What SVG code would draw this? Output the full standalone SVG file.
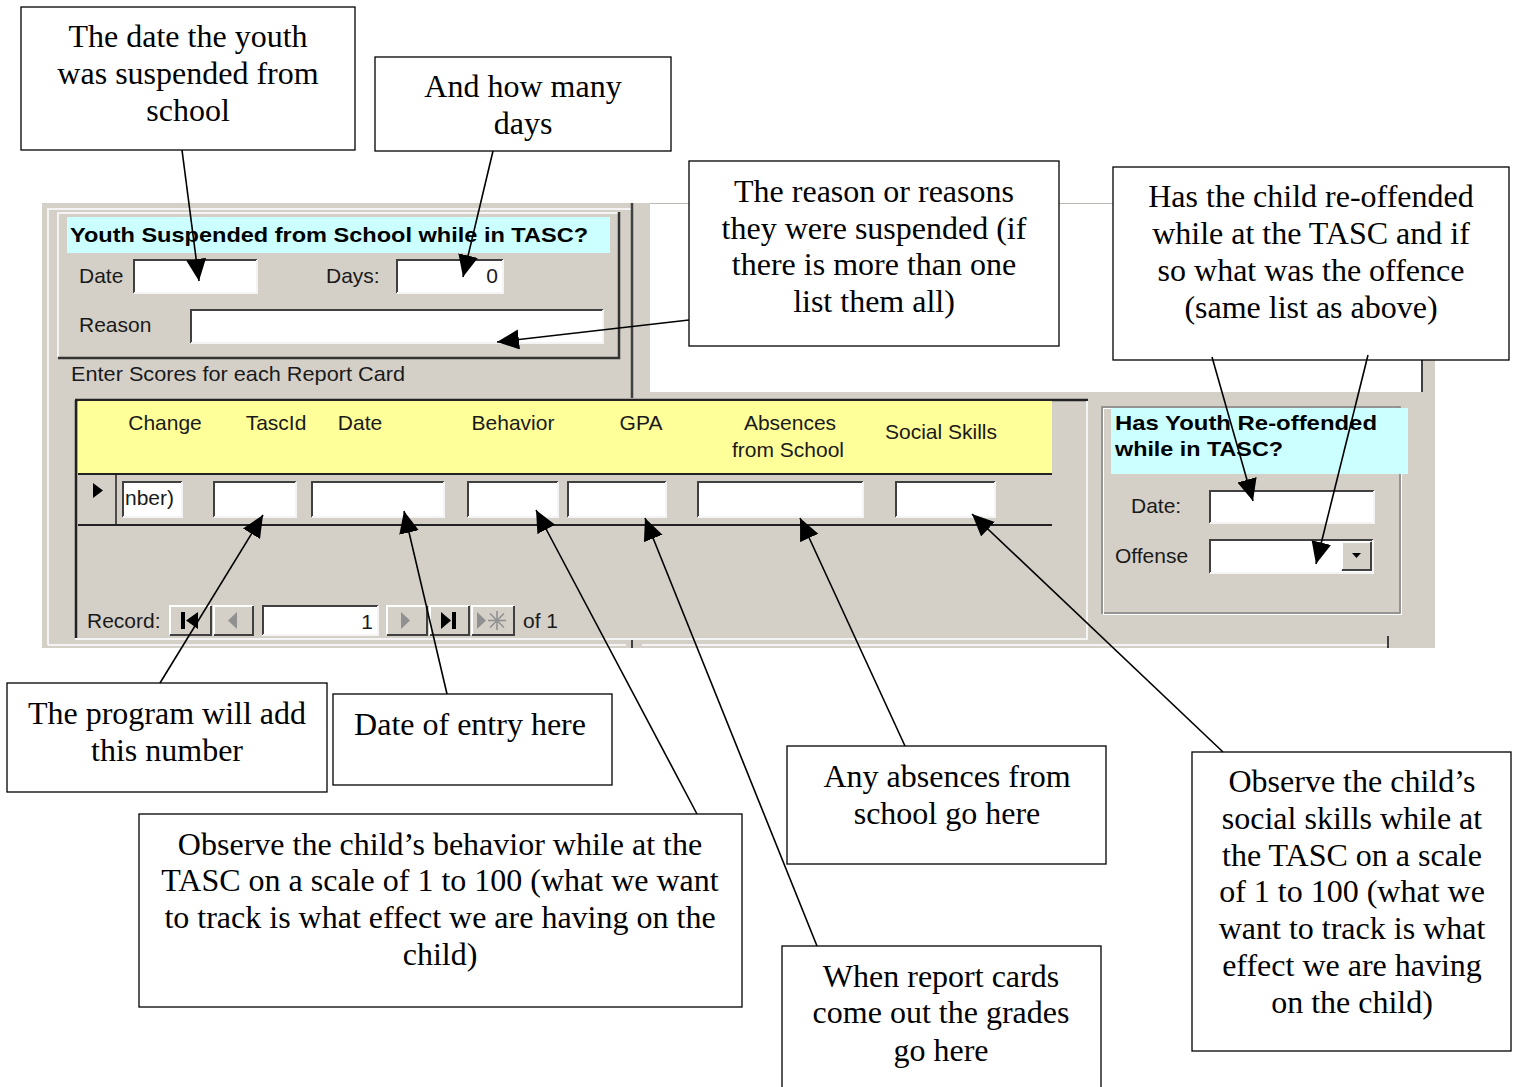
<svg xmlns="http://www.w3.org/2000/svg" width="1522" height="1087" viewBox="0 0 1522 1087">
<style>
.cb{fill:#fff;stroke:#000;stroke-width:1.3}
.ct{font-family:"Liberation Serif","Times New Roman",serif;font-size:32px;fill:#000;text-anchor:middle}
.ui{font-family:"Liberation Sans",Arial,sans-serif;font-size:21px;fill:#1a1a1a}
.uib{font-family:"Liberation Sans",Arial,sans-serif;font-size:21px;font-weight:bold;fill:#000}
.tb{fill:#fff}
.dk{fill:none;stroke:#404040;stroke-width:2}
.lt{fill:none;stroke:#f4f4f4;stroke-width:2}
.btn{fill:#d4d0c8}
.bl{fill:none;stroke:#fff;stroke-width:2}
.bd{fill:none;stroke:#404040;stroke-width:2}
.cn line{stroke:#000;stroke-width:1.6;marker-end:url(#ah)}
</style>
<defs>
<marker id="ah" markerUnits="userSpaceOnUse" markerWidth="24" markerHeight="22" refX="22" refY="10" orient="auto">
<path d="M0,0 L22,10 L0,20 z" fill="#000"/>
</marker>
</defs>
<rect width="1522" height="1087" fill="#fff"/>
<g id="form">
<rect x="42" y="203" width="1393" height="445" fill="#d4d0c8"/>
<rect x="650" y="203" width="772" height="189" fill="#fff"/>
<line x1="650" y1="203.5" x2="1422" y2="203.5" stroke="#bdbab3" stroke-width="1"/>
<line x1="1422" y1="203" x2="1422" y2="392" stroke="#404040" stroke-width="2"/>
<polyline points="48,645 48,209 632,209" class="lt"/>
<line x1="632" y1="203" x2="632" y2="398" stroke="#404040" stroke-width="2.5"/>
<polyline points="58,357 58,213 618,213" class="lt"/>
<polyline points="58,358 619,358 619,212" fill="none" stroke="#333" stroke-width="2.5"/>
<rect x="67" y="217" width="543" height="36" fill="#ccffff"/>
<text class="uib" x="70" y="242" textLength="518" lengthAdjust="spacingAndGlyphs">Youth Suspended from School while in TASC?</text>
<text class="ui" x="79" y="283">Date</text>
<rect class="tb" x="133" y="259" width="124" height="34"/>
<polyline class="dk" points="134,293 134,260 257,260"/>
<polyline class="lt" points="134,293 257,293 257,260"/>
<text class="ui" x="326" y="283">Days:</text>
<rect class="tb" x="396" y="259" width="107" height="34"/>
<polyline class="dk" points="397,293 397,260 503,260"/>
<polyline class="lt" points="397,293 503,293 503,260"/>
<text class="ui" x="498" y="283" text-anchor="end">0</text>
<text class="ui" x="79" y="332">Reason</text>
<rect class="tb" x="190" y="309" width="413" height="34"/>
<polyline class="dk" points="191,343 191,310 603,310"/>
<polyline class="lt" points="191,343 603,343 603,310"/>
<text class="ui" x="71" y="381" textLength="334" lengthAdjust="spacingAndGlyphs">Enter Scores for each Report Card</text>
<line x1="75" y1="400" x2="1088" y2="400" stroke="#222" stroke-width="2.5"/>
<line x1="76" y1="400" x2="76" y2="638" stroke="#222" stroke-width="2.5"/>
<line x1="1087" y1="401" x2="1087" y2="638" stroke="#f4f4f4" stroke-width="2"/>
<line x1="75" y1="639" x2="1088" y2="639" stroke="#f4f4f4" stroke-width="2"/>
<rect x="78" y="401" width="974" height="72" fill="#ffff99"/>
<line x1="78" y1="474" x2="1052" y2="474" stroke="#222" stroke-width="2"/>
<line x1="78" y1="525" x2="1052" y2="525" stroke="#222" stroke-width="2"/>
<line x1="116" y1="474" x2="116" y2="525" stroke="#222" stroke-width="1.5"/>
<text class="ui" x="165" y="430" text-anchor="middle">Change</text>
<text class="ui" x="276" y="430" text-anchor="middle">TascId</text>
<text class="ui" x="360" y="430" text-anchor="middle">Date</text>
<text class="ui" x="513" y="430" text-anchor="middle">Behavior</text>
<text class="ui" x="641" y="430" text-anchor="middle">GPA</text>
<text class="ui" x="790" y="430" text-anchor="middle">Absences</text>
<text class="ui" x="788" y="457" text-anchor="middle">from School</text>
<text class="ui" x="941" y="439" text-anchor="middle">Social Skills</text>
<polygon points="93,483 103,490.5 93,498" fill="#000"/>
<rect class="tb" x="122" y="481" width="60" height="36"/>
<polyline class="dk" points="123,517 123,482 182,482"/>
<polyline class="lt" points="123,517 182,517 182,482"/>
<text class="ui" x="125" y="505">nber)</text>
<rect class="tb" x="213" y="481" width="83" height="36"/>
<polyline class="dk" points="214,517 214,482 296,482"/>
<polyline class="lt" points="214,517 296,517 296,482"/>
<rect class="tb" x="311" y="481" width="133" height="36"/>
<polyline class="dk" points="312,517 312,482 444,482"/>
<polyline class="lt" points="312,517 444,517 444,482"/>
<rect class="tb" x="467" y="481" width="91" height="36"/>
<polyline class="dk" points="468,517 468,482 558,482"/>
<polyline class="lt" points="468,517 558,517 558,482"/>
<rect class="tb" x="567" y="481" width="99" height="36"/>
<polyline class="dk" points="568,517 568,482 666,482"/>
<polyline class="lt" points="568,517 666,517 666,482"/>
<rect class="tb" x="697" y="481" width="166" height="36"/>
<polyline class="dk" points="698,517 698,482 863,482"/>
<polyline class="lt" points="698,517 863,517 863,482"/>
<rect class="tb" x="895" y="481" width="100" height="36"/>
<polyline class="dk" points="896,517 896,482 995,482"/>
<polyline class="lt" points="896,517 995,517 995,482"/>
<text class="ui" x="87" y="628">Record:</text>
<rect class="btn" x="169" y="605" width="43" height="31"/>
<polyline class="bl" points="170,635 170,606 211,606"/>
<polyline class="bd" points="170,635 211,635 211,606"/>
<rect x="181" y="612" width="4" height="17" fill="#000"/>
<polygon points="198,612 186,620.5 198,629" fill="#000"/>
<rect class="btn" x="213" y="605" width="41" height="31"/>
<polyline class="bl" points="214,635 214,606 253,606"/>
<polyline class="bd" points="214,635 253,635 253,606"/>
<polygon points="237,612 228,620.5 237,629" fill="#909090"/>
<rect class="tb" x="262" y="605" width="116" height="31"/>
<polyline class="dk" points="263,635 263,606 378,606"/>
<polyline class="lt" points="263,635 378,635 378,606"/>
<text class="ui" x="373" y="629" text-anchor="end">1</text>
<rect class="btn" x="386" y="605" width="42" height="31"/>
<polyline class="bl" points="387,635 387,606 427,606"/>
<polyline class="bd" points="387,635 427,635 427,606"/>
<polygon points="401,612 410,620.5 401,629" fill="#909090"/>
<rect class="btn" x="429" y="605" width="41" height="31"/>
<polyline class="bl" points="430,635 430,606 469,606"/>
<polyline class="bd" points="430,635 469,635 469,606"/>
<polygon points="441,612 451,620.5 441,629" fill="#000"/>
<rect x="452" y="612" width="4" height="17" fill="#000"/>
<rect class="btn" x="471" y="605" width="44" height="31"/>
<polyline class="bl" points="472,635 472,606 514,606"/>
<polyline class="bd" points="472,635 514,635 514,606"/>
<polygon points="477,612 486,620.5 477,629" fill="#909090"/>
<g stroke="#909090" stroke-width="1.6">
<line x1="497" y1="611" x2="497" y2="630"/>
<line x1="488" y1="620.5" x2="506" y2="620.5"/>
<line x1="490" y1="613.5" x2="504" y2="627.5"/>
<line x1="504" y1="613.5" x2="490" y2="627.5"/>
</g>
<text class="ui" x="523" y="628">of 1</text>
<line x1="48" y1="645" x2="626" y2="645" stroke="#f4f4f4" stroke-width="2"/>
<line x1="632" y1="640" x2="632" y2="648" stroke="#404040" stroke-width="2"/>
<line x1="642" y1="645" x2="1388" y2="645" stroke="#f4f4f4" stroke-width="2"/>
<line x1="1388" y1="636" x2="1388" y2="648" stroke="#404040" stroke-width="2"/>
<rect x="1102" y="407" width="298" height="206" fill="none" stroke="#808080" stroke-width="1.5"/>
<rect x="1103.5" y="408.5" width="298" height="206" fill="none" stroke="#fff" stroke-width="1"/>
<rect x="1111" y="408" width="297" height="66" fill="#ccffff"/>
<text class="uib" x="1115" y="430" textLength="262" lengthAdjust="spacingAndGlyphs">Has Youth Re-offended</text>
<text class="uib" x="1115" y="456" textLength="168" lengthAdjust="spacingAndGlyphs">while in TASC?</text>
<text class="ui" x="1131" y="513">Date:</text>
<rect class="tb" x="1209" y="490" width="165" height="33"/>
<polyline class="dk" points="1210,523 1210,491 1374,491"/>
<polyline class="lt" points="1210,523 1374,523 1374,491"/>
<text class="ui" x="1115" y="563">Offense</text>
<rect class="tb" x="1209" y="539" width="164" height="34"/>
<polyline class="dk" points="1210,573 1210,540 1373,540"/>
<polyline class="lt" points="1210,573 1373,573 1373,540"/>
<rect class="btn" x="1341" y="541" width="31" height="30"/>
<polyline class="bl" points="1342,570 1342,542 1371,542"/>
<polyline class="bd" points="1342,570 1371,570 1371,542"/>
<polygon points="1352,553 1361,553 1356.5,558" fill="#000"/>
</g>
<g id="box-date"><rect class="cb" x="21" y="7" width="334" height="143"/>
<text class="ct" x="188" y="47">The date the youth</text><text class="ct" x="188" y="84">was suspended from</text><text class="ct" x="188" y="121">school</text></g>
<g id="box-days"><rect class="cb" x="375" y="57" width="296" height="94"/>
<text class="ct" x="523" y="97">And how many</text><text class="ct" x="523" y="134">days</text></g>
<g id="box-reason"><rect class="cb" x="689" y="161" width="370" height="185"/>
<text class="ct" x="874" y="202">The reason or reasons</text><text class="ct" x="874" y="239">they were suspended (if</text><text class="ct" x="874" y="275">there is more than one</text><text class="ct" x="874" y="312">list them all)</text></g>
<g id="box-reoffend"><rect class="cb" x="1113" y="167" width="396" height="193"/>
<text class="ct" x="1311" y="207">Has the child re-offended</text><text class="ct" x="1311" y="244">while at the TASC and if</text><text class="ct" x="1311" y="281">so what was the offence</text><text class="ct" x="1311" y="318">(same list as above)</text></g>
<g id="box-program"><rect class="cb" x="7" y="683" width="320" height="109"/>
<text class="ct" x="167" y="724">The program will add</text><text class="ct" x="167" y="761">this number</text></g>
<g id="box-entry"><rect class="cb" x="333" y="694" width="279" height="91"/>
<text class="ct" x="470" y="735">Date of entry here</text></g>
<g id="box-behavior"><rect class="cb" x="139" y="814" width="603" height="193"/>
<text class="ct" x="440" y="855">Observe the child’s behavior while at the</text><text class="ct" x="440" y="891">TASC on a scale of 1 to 100 (what we want</text><text class="ct" x="440" y="928">to track is what effect we are having on the</text><text class="ct" x="440" y="965">child)</text></g>
<g id="box-absences"><rect class="cb" x="787" y="746" width="319" height="118"/>
<text class="ct" x="947" y="787">Any absences from</text><text class="ct" x="947" y="824">school go here</text></g>
<g id="box-grades"><rect class="cb" x="782" y="946" width="319" height="145"/>
<text class="ct" x="941" y="987">When report cards</text><text class="ct" x="941" y="1023">come out the grades</text><text class="ct" x="941" y="1061">go here</text></g>
<g id="box-social"><rect class="cb" x="1192" y="752" width="319" height="299"/>
<text class="ct" x="1352" y="792">Observe the child’s</text><text class="ct" x="1352" y="829">social skills while at</text><text class="ct" x="1352" y="866">the TASC on a scale</text><text class="ct" x="1352" y="902">of 1 to 100 (what we</text><text class="ct" x="1352" y="939">want to track is what</text><text class="ct" x="1352" y="976">effect we are having</text><text class="ct" x="1352" y="1013">on the child)</text></g>
<g id="connectors" class="cn">
<line x1="182" y1="150" x2="199" y2="281"/>
<line x1="493" y1="151" x2="463" y2="277"/>
<line x1="689" y1="320" x2="497" y2="342"/>
<line x1="1212" y1="357" x2="1253" y2="501"/>
<line x1="1368" y1="355" x2="1316" y2="564"/>
<line x1="160" y1="683" x2="263" y2="515"/>
<line x1="447" y1="694" x2="404" y2="511"/>
<line x1="697" y1="814" x2="536" y2="510"/>
<line x1="817" y1="946" x2="645" y2="518"/>
<line x1="905" y1="746" x2="800" y2="518"/>
<line x1="1223" y1="752" x2="972" y2="514"/>
</g>
</svg>
